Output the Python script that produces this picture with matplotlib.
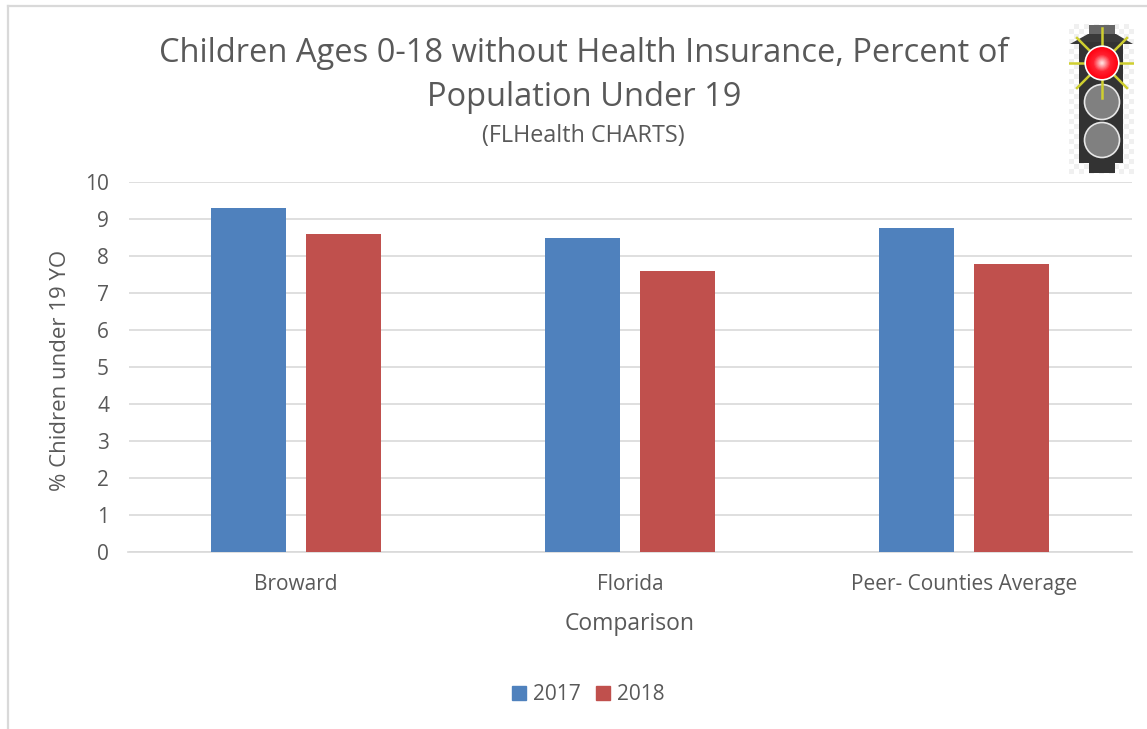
import matplotlib
matplotlib.use("Agg")
import matplotlib.pyplot as plt
from matplotlib.colors import LinearSegmentedColormap
from matplotlib.patches import Circle, Polygon, Rectangle
from matplotlib.lines import Line2D
import numpy as np

categories = ["Broward", "Florida", "Peer- Counties Average"]
years = ["2017", "2018"]
values_2017 = [9.3, 8.5, 8.77]
values_2018 = [8.6, 7.6, 7.78]
yticks = list(range(0, 11))

W, H = 1147, 729
plt.rcParams['font.family'] = ['Open Sans', 'DejaVu Sans']
TXT = '#595959'
fig = plt.figure(figsize=(W/100, H/100), dpi=100, facecolor='white')

def box(l, t, r, b):
    return [l/W, 1-b/H, (r-l)/W, (b-t)/H]

# chart frame
fig.add_artist(Line2D([8/W, 8/W], [0, 1-5.5/H], color='#d9d9d9', lw=1.6))
fig.add_artist(Line2D([8/W, 1], [1-5.5/H, 1-5.5/H], color='#d9d9d9', lw=1.6))

ax = fig.add_axes(box(128.5, 182, 1131.5, 552))
x = np.arange(len(categories))
off, bw = 0.142, 0.224
ax.bar(x-off, values_2017, bw, color='#4f81bd', zorder=3, label=years[0])
ax.bar(x+off, values_2018, bw, color='#c0504d', zorder=3, label=years[1])
ax.set_xlim(-0.5, 2.5)
ax.set_ylim(0, 10)
ax.set_yticks(yticks)
ax.set_xticks(x, categories)
ax.grid(axis='y', color='#d9d9d9', lw=1.2, zorder=0)
ax.set_axisbelow(True)
for s in ['top', 'right', 'left']:
    ax.spines[s].set_visible(False)
ax.spines['bottom'].set_color('#d9d9d9')
ax.spines['bottom'].set_linewidth(1.2)
ax.tick_params(axis='both', length=0, colors=TXT)
ax.tick_params(axis='y', labelsize=15, pad=14)
ax.tick_params(axis='x', labelsize=15, pad=15.5)
ax.set_xlabel("Comparison", fontsize=16.5, color=TXT)
ax.xaxis.set_label_coords((629-128)/1003, -(624-552)/370, transform=ax.transAxes)
ax.xaxis.label.set_va('center')
ax.set_ylabel("% Chidren under 19 YO", fontsize=16, color=TXT)
ax.yaxis.set_label_coords((60-128)/1003, (552-370)/370, transform=ax.transAxes)
ax.yaxis.label.set_va('center')

fig.text(584/W, 1-53/H, "Children Ages 0-18 without Health Insurance, Percent of",
         fontsize=23.5, color=TXT, ha='center', va='center')
fig.text(584/W, 1-98/H, "Population Under 19", fontsize=23.5, color=TXT, ha='center', va='center')
fig.text(583.5/W, 1-136/H, "(FLHealth CHARTS)", fontsize=16.8, color=TXT, ha='center', va='center')

# legend
h = [Rectangle((0, 0), 1, 1, color='#4f81bd'), Rectangle((0, 0), 1, 1, color='#c0504d')]
fig.legend(h, years, loc='center', bbox_to_anchor=(588.5/W, 1-695/H), ncol=2, frameon=False,
           fontsize=15, labelcolor=TXT, handlelength=0.65, handleheight=0.65,
           handletextpad=0.35, columnspacing=0.75)

# traffic-light icon, drawn in its own pixel-based axes
ic = fig.add_axes(box(1069, 24, 1134, 174), zorder=5)
ic.set_xlim(1069, 1134)
ic.set_ylim(174, 24)
ic.axis('off')
# checker backdrop
for i, xx in enumerate(range(1069, 1134, 5)):
    for j, yy in enumerate(range(24, 174, 5)):
        ic.add_patch(Rectangle((xx, yy), 5, 5, color='#f0f0f0' if (i+j) % 2 else '#ffffff', lw=0, zorder=1))
ic.add_patch(Rectangle((1089, 25), 26, 12, color='#666666', lw=0, zorder=2))
ic.add_patch(Polygon([[1070, 44], [1088, 34], [1116, 34], [1133, 44]], color='#3a3a3a', lw=0, zorder=2))
ic.add_patch(Rectangle((1089, 160), 26, 13, color='#333333', lw=0, zorder=2))
ic.add_patch(Rectangle((1079, 42), 44, 121, color='#333333', lw=0, zorder=2))
ic.add_patch(Circle((1102, 102), 17.5, fc='#808080', ec='#e8e8e8', lw=1.2, zorder=3))
ic.add_patch(Circle((1102, 140), 17.5, fc='#808080', ec='#e8e8e8', lw=1.2, zorder=3))
for p, q in [((1102, 28), (1102, 98)), ((1069, 63), (1135, 63)),
             ((1077, 38), (1127, 88)), ((1127, 38), (1077, 88))]:
    ic.plot([p[0], q[0]], [p[1], q[1]], color='#cfcf30', lw=1.8, zorder=4)
glow = LinearSegmentedColormap.from_list('g', ['#ff0010', '#ff2030', '#ffd8d8'])
for r, c in zip(np.linspace(16.5, 1.5, 15), glow(np.linspace(0, 1, 15))):
    ic.add_patch(Circle((1102, 63), r, fc=c, lw=0, zorder=5))
ic.add_patch(Circle((1102, 63), 16.8, fc='none', ec='white', lw=1.2, zorder=6))

fig.savefig("out.png", dpi=100)
